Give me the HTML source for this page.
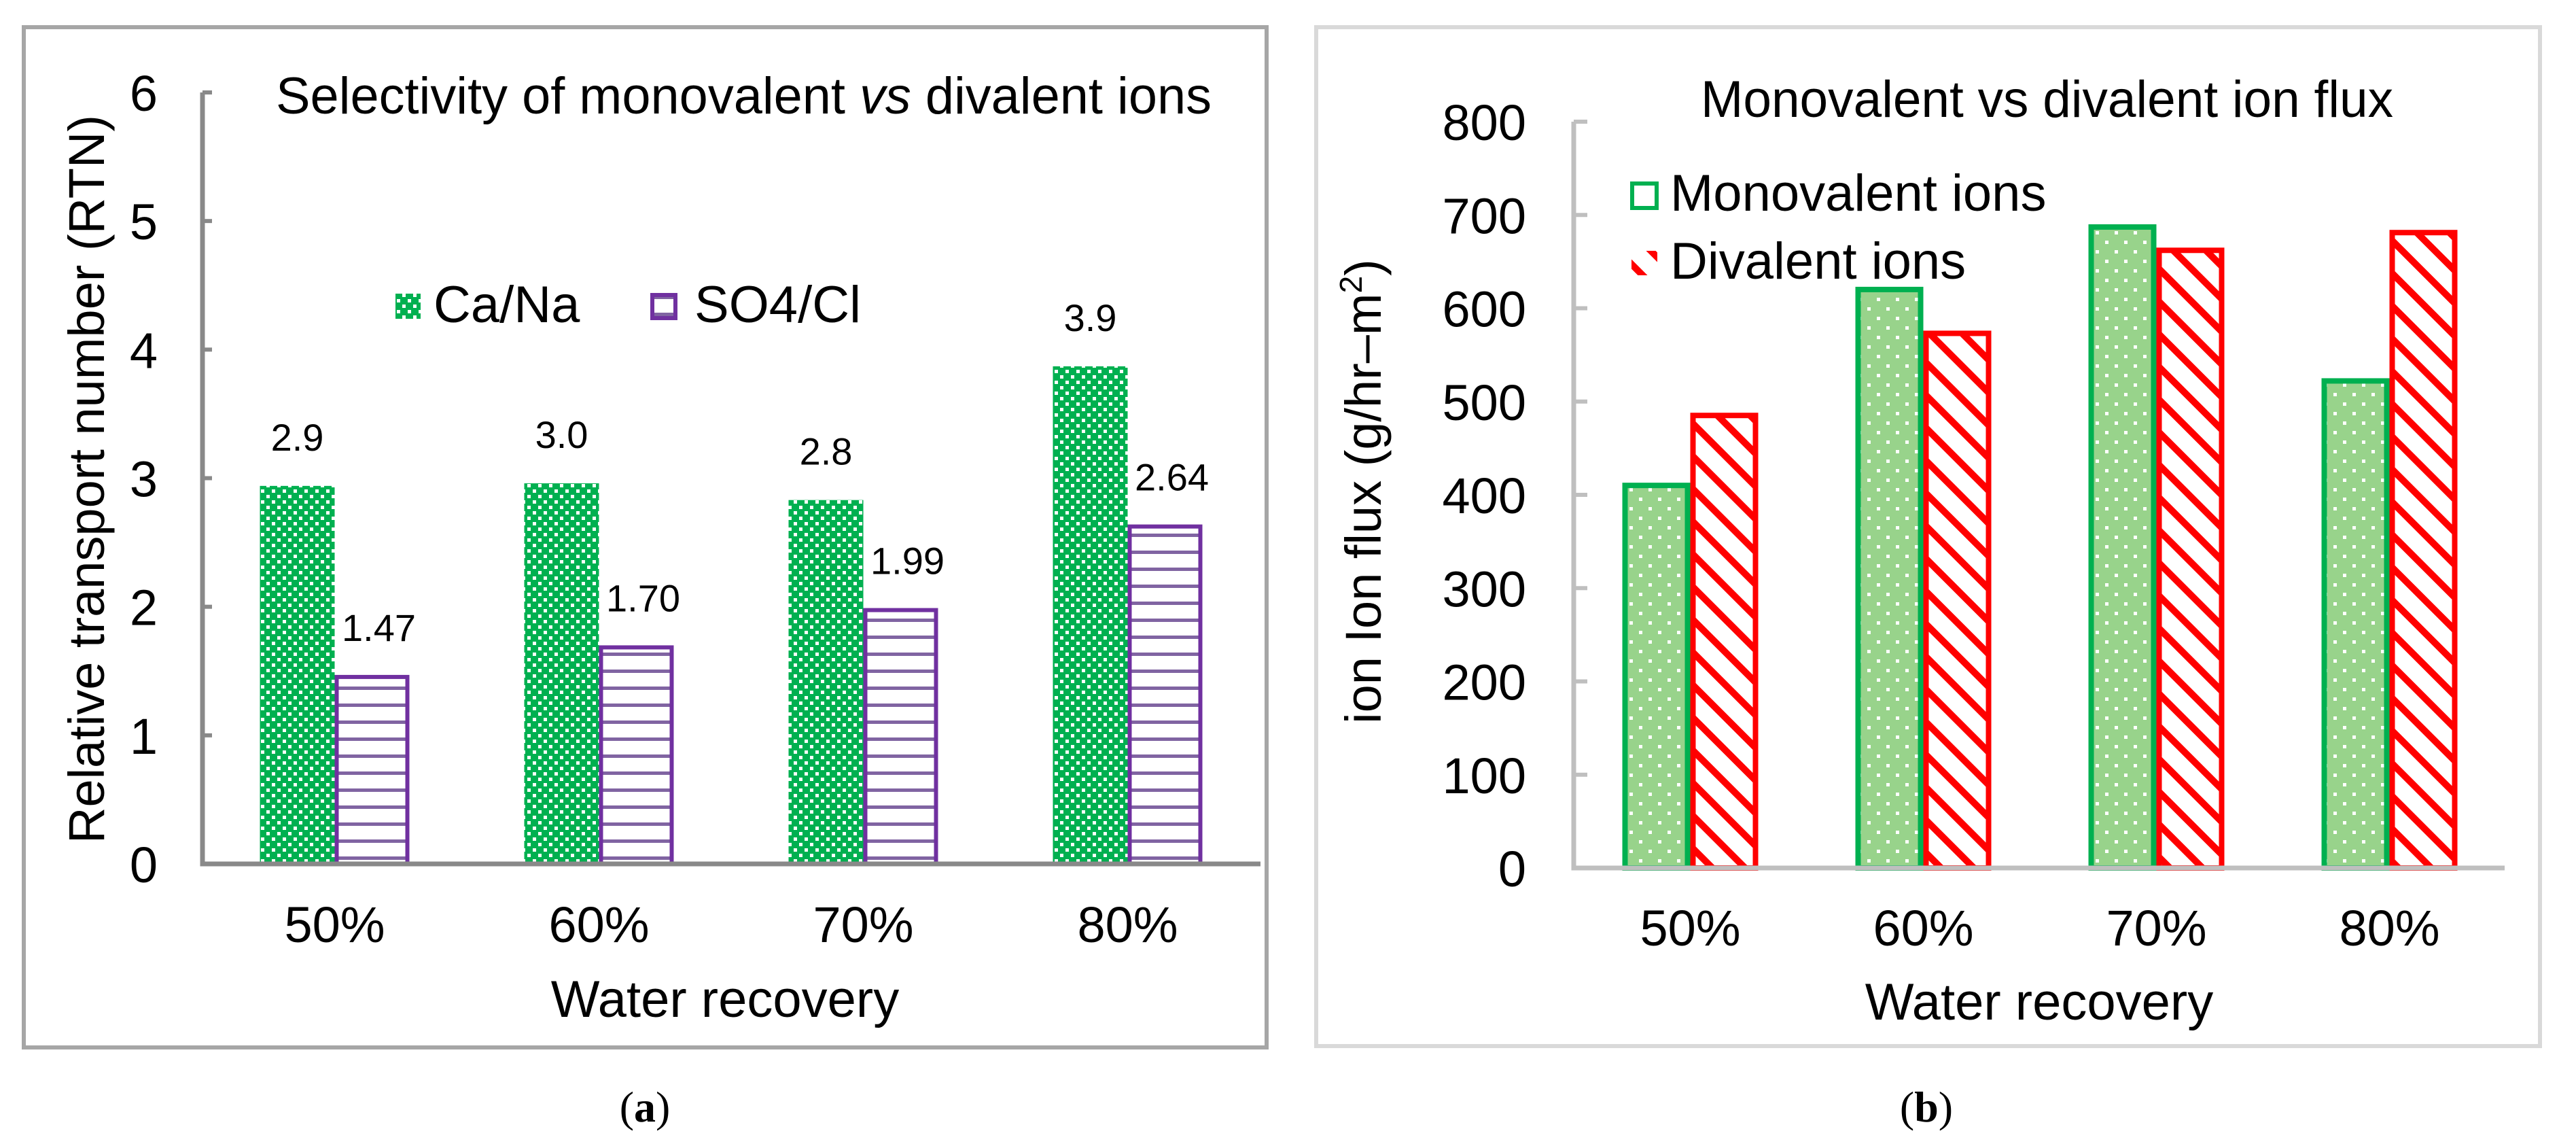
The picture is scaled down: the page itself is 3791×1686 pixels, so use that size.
<!DOCTYPE html>
<html><head><meta charset="utf-8"><style>
html,body{margin:0;padding:0;background:#fff}
svg{display:block}
text{font-family:"Liberation Sans",Arial,sans-serif;fill:#000}
</style></head><body>
<svg id="fig" width="3791" height="1686" viewBox="0 0 3791 1686" xmlns="http://www.w3.org/2000/svg">
<defs>
<pattern id="chk" width="16" height="16" patternUnits="userSpaceOnUse">
<rect width="16" height="16" fill="#00b050"/><rect x="0" y="0" width="5" height="5" fill="#fff"/><rect x="8" y="8" width="5" height="5" fill="#fff"/>
</pattern>
<pattern id="hl" width="20" height="25" patternUnits="userSpaceOnUse">
<rect width="20" height="25" fill="#fff"/><rect y="10" width="20" height="5" fill="#8064a2"/>
</pattern>
<pattern id="dots" width="28" height="28" patternUnits="userSpaceOnUse">
<rect width="28" height="28" fill="#98d38b"/><rect x="4" y="4" width="5" height="5" fill="#fff"/><rect x="18" y="18" width="5" height="5" fill="#fff"/>
</pattern>
<pattern id="diag" width="34" height="34" patternUnits="userSpaceOnUse" patternTransform="rotate(45)">
<rect width="34" height="34" fill="#fff"/><rect x="0" y="0" width="34" height="10" fill="#ff0000"/>
</pattern>
</defs>
<rect x="35" y="40" width="1829" height="1501" fill="#fff" stroke="#a6a6a6" stroke-width="6"/>
<rect x="1937" y="40" width="1801" height="1499" fill="#fff" stroke="#d9d9d9" stroke-width="6"/>
<g id="ga"></g>
<g id="gb"></g>
<text x="949" y="1650" text-anchor="middle" style="font-family:'Liberation Serif',serif;font-size:64px">(<tspan font-weight="bold">a</tspan>)</text>
<text x="2835" y="1650" text-anchor="middle" style="font-family:'Liberation Serif',serif;font-size:64px">(<tspan font-weight="bold">b</tspan>)</text>
</svg>
<script>
const categories=["50%","60%","70%","80%"];
const caNa=[2.94,2.96,2.83,3.87];
const so4Cl=[1.47,1.70,1.99,2.64];
const caNaLabels=["2.9","3.0","2.8","3.9"];
const so4ClLabels=["1.47","1.70","1.99","2.64"];
const ticksA=[0,1,2,3,4,5,6];
const mono=[413,623,690,525];
const diva=[488,576,665,684];
const ticksB=[0,100,200,300,400,500,600,700,800];

const NS="http://www.w3.org/2000/svg";
function mk(p,tag,at,txt){const e=document.createElementNS(NS,tag);for(const k in at)e.setAttribute(k,at[k]);if(txt!=null)e.textContent=txt;p.appendChild(e);return e;}

// Chart A
(function(){
const g=document.getElementById('ga');
const x0=298,x1=1855,y0=1271,yTop=136,max=6,step=389,bw=110;
const ys=v=>y0-(y0-yTop)*v/max;
const xc=i=>x0+step*(i+0.5);
ticksA.forEach(t=>{
 const l=mk(g,'line',{x1:x0,x2:x0+14,y1:ys(t),y2:ys(t),stroke:'#898989','stroke-width':6});
 
 
 const tx=mk(g,'text',{x:232,y:ys(t)+27,'text-anchor':'end','font-size':74},String(t));
 
 
});
categories.forEach((c,i)=>{
 const r1=mk(g,'rect',{x:xc(i)-bw,y:ys(caNa[i]),width:bw,height:y0-ys(caNa[i]),fill:'url(#chk)'});
 
 
 const r2=mk(g,'rect',{x:xc(i)+3,y:ys(so4Cl[i])+3,width:bw-6,height:y0-ys(so4Cl[i])-3,fill:'url(#hl)',stroke:'#7030a0','stroke-width':6});
 
 
 const l1=mk(g,'text',{x:xc(i)-bw/2,y:ys(caNa[i])-52,'text-anchor':'middle','font-size':56},caNaLabels[i]);
 
 
 const l2=mk(g,'text',{x:xc(i)+bw/2+10,y:ys(so4Cl[i])-50,'text-anchor':'middle','font-size':56},so4ClLabels[i]);
 
 
 const xl=mk(g,'text',{x:xc(i),y:1386,'text-anchor':'middle','font-size':74},c);
 
 
});
const ax=mk(g,'path',{d:`M${x0} ${yTop} V${y0} H${x1}`,fill:'none',stroke:'#898989','stroke-width':7});


const t=mk(g,'text',{x:406,y:167,'font-size':76,textLength:1377,lengthAdjust:'spacingAndGlyphs'});


t.innerHTML='Selectivity of monovalent <tspan font-style="italic">vs</tspan> divalent ions';
const yt=mk(g,'text',{x:0,y:0,'font-size':74,'text-anchor':'middle',transform:'translate(153,705) rotate(-90)'},'Relative transport number (RTN)');


const xt=mk(g,'text',{x:1067,y:1496,'font-size':76,'text-anchor':'middle'},'Water recovery');


const m1=mk(g,'rect',{x:582,y:432,width:37,height:37,fill:'url(#chk)'});


const lt1=mk(g,'text',{x:638,y:474,'font-size':76},'Ca/Na');


const m2=mk(g,'rect',{x:960,y:434,width:34,height:34,fill:'url(#hl)',stroke:'#7030a0','stroke-width':6});


const lt2=mk(g,'text',{x:1022,y:474,'font-size':76},'SO4/Cl');


})();

// Chart B
(function(){
const g=document.getElementById('gb');
const x0=2316,x1=3686,y0=1277,yTop=179,max=800,step=343,bw=100;
const ys=v=>y0-(y0-yTop)*v/max;
const xc=i=>x0+step*(i+0.5);
ticksB.forEach(t=>{
 const l=mk(g,'line',{x1:x0,x2:x0+20,y1:ys(t),y2:ys(t),stroke:'#bfbfbf','stroke-width':6});
 
 
 const tx=mk(g,'text',{x:2246,y:ys(t)+27,'text-anchor':'end','font-size':74},String(t));
 
 
});
categories.forEach((c,i)=>{
 const r1=mk(g,'rect',{x:xc(i)-bw+4,y:ys(mono[i])+4,width:bw-8,height:y0-ys(mono[i])-4,fill:'url(#dots)',stroke:'#00b050','stroke-width':8});
 
 
 const r2=mk(g,'rect',{x:xc(i)+4,y:ys(diva[i])+4,width:bw-8,height:y0-ys(diva[i])-4,fill:'url(#diag)',stroke:'#ff0000','stroke-width':8});
 
 
 const xl=mk(g,'text',{x:xc(i),y:1391,'text-anchor':'middle','font-size':74},c);
 
 
});
const ax=mk(g,'path',{d:`M${x0} ${yTop} V${y0} H${x1}`,fill:'none',stroke:'#bfbfbf','stroke-width':7});


const t=mk(g,'text',{x:2503,y:172,'font-size':76,textLength:1019,lengthAdjust:'spacingAndGlyphs'},'Monovalent vs divalent ion flux');


const yt=mk(g,'text',{x:0,y:0,'font-size':74,'text-anchor':'middle',transform:'translate(2032,723) rotate(-90)'});


yt.innerHTML='ion Ion flux (g/hr\u2013m<tspan font-size="46" dy="-28">2</tspan><tspan dy="28">)</tspan>';
const xt=mk(g,'text',{x:3001,y:1500,'font-size':76,'text-anchor':'middle'},'Water recovery');


const m1=mk(g,'rect',{x:2402,y:270,width:36,height:36,fill:'#fff',stroke:'#00b050','stroke-width':6});


const lt1=mk(g,'text',{x:2458,y:310,'font-size':76},'Monovalent ions');


const m2=mk(g,'rect',{x:2401,y:369,width:38,height:36,fill:'url(#diag)'});


const lt2=mk(g,'text',{x:2458,y:410,'font-size':76},'Divalent ions');


})();
</script>
</body></html>
